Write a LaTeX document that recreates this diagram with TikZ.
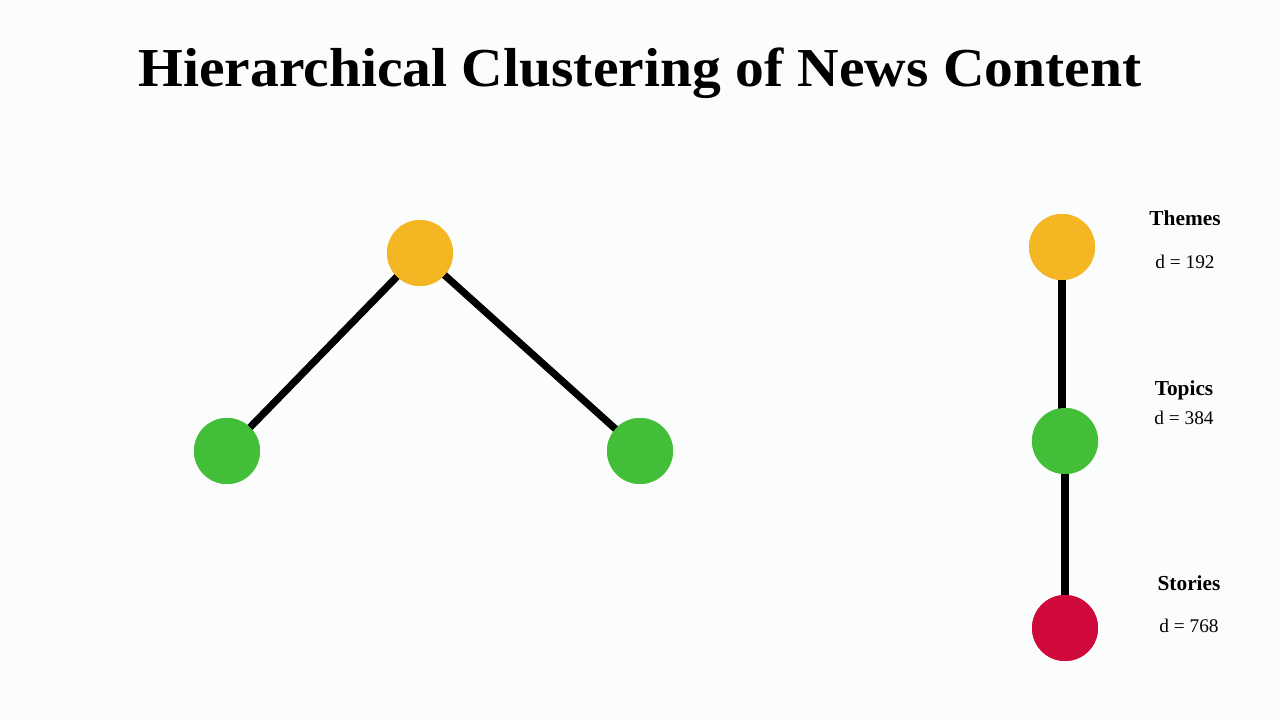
\documentclass[tikz,border=0pt]{standalone}
\usepackage{fontspec}
\setmainfont{Liberation Serif}
\usepackage{graphicx}
\definecolor{bgc}{RGB}{251,253,253}
\definecolor{themeorange}{RGB}{245,182,35}
\definecolor{topicgreen}{RGB}{66,190,56}
\definecolor{storyred}{RGB}{208,9,60}
\tikzset{
  dot/.style={circle, minimum size=49.5pt, inner sep=0pt, draw=none},
  link/.style={line width=5.4pt, black},
  lvl/.style={font=\fontsize{16}{18}\selectfont\bfseries, anchor=center},
  dim/.style={font=\fontsize{14.5}{16}\selectfont, anchor=center}
}
\begin{document}
\begin{tikzpicture}[x=0.75pt, y=-0.75pt]
\fill[bgc] (0,0) rectangle (1280,720);
\useasboundingbox (0,0) rectangle (1280,720);
% title
\node[anchor=base, inner sep=0pt] (title) at (640,87)
  {\resizebox{752pt}{29pt}{\bfseries Hierarchical Clustering of News Content}};
% tree
\node[dot, fill=themeorange] (root) at (420,253) {};
\node[dot, fill=topicgreen] (lchild) at (227,451) {};
\node[dot, fill=topicgreen] (rchild) at (640,451) {};
\draw[link] (root.center) -- (lchild.center);
\draw[link] (root.center) -- (rchild.center);
\node[dot, fill=themeorange] at (root) {};
\node[dot, fill=topicgreen] at (lchild) {};
\node[dot, fill=topicgreen] at (rchild) {};
% legend column
\node[dot, fill=themeorange] (themes) at (1062,247) {};
\node[dot, fill=topicgreen] (topics) at (1065,441) {};
\node[dot, fill=storyred] (stories) at (1065,628) {};
\draw[link] (themes.center) -- (themes.center |- topics.center);
\draw[link] (topics.center) -- (stories.center);
\node[dot, fill=themeorange] at (themes) {};
\node[dot, fill=topicgreen] at (topics) {};
\node[dot, fill=storyred] at (stories) {};
% labels
\node[lvl] (tl) at (1185,218) {Themes};
\node[dim] (td) at (1185,262) {d = 192};
\node[lvl] (pl) at (1184,390) {Topics};
\node[dim] (pd) at (1184,418) {d = 384};
\node[lvl] (sl) at (1189,583) {Stories};
\node[dim] (sd) at (1189,626) {d = 768};
\end{tikzpicture}
\end{document}
